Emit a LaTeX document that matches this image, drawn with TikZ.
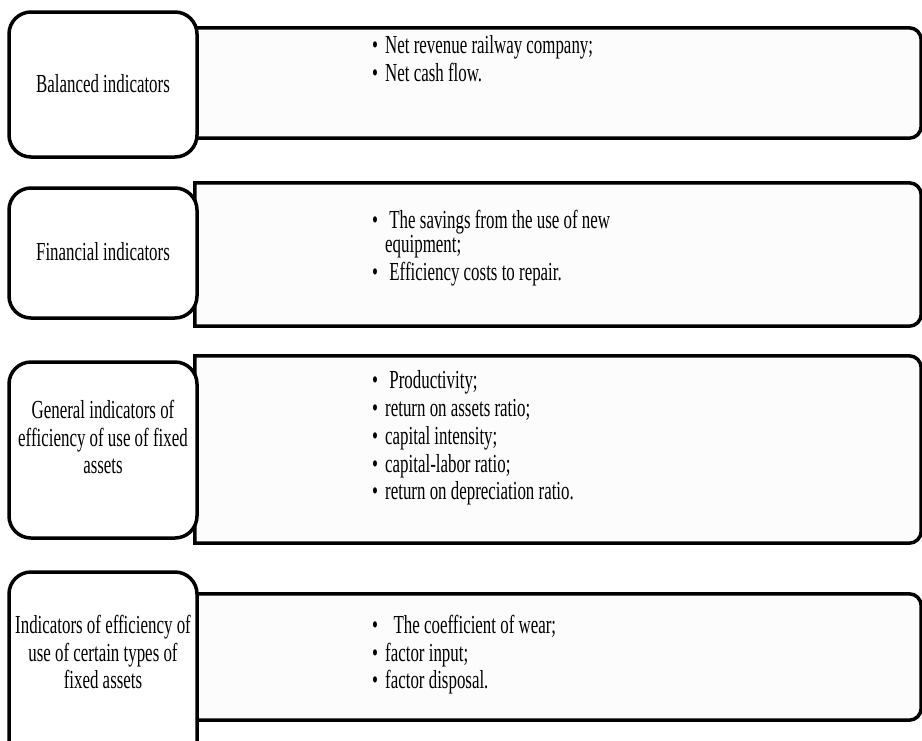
\documentclass[tikz,border=0pt]{standalone}
\usepackage{fontspec}
\setmainfont{Liberation Serif}[FakeStretch=0.65]
\usetikzlibrary{positioning}
\tikzset{
	leftbox/.style={draw, line width=3.5pt, rounded corners=22pt, fill=white,
			minimum width=188pt, inner sep=0pt},
	rightbox/.style={draw, line width=3.5pt, fill=black!1},
	frame/.style={minimum width=726pt, inner sep=0pt},
	boxtext/.style={align=center, inner sep=0pt, font=\fontsize{26}{27.5}\selectfont},
	itemtext/.style={anchor=base west, inner sep=0pt, font=\fontsize{26}{28}\selectfont}
}
\newcommand{\itm}[1]{\makebox[13pt][l]{\textbullet}#1}
% box with the two right corners rounded
\newcommand{\sideround}[1]{%
	\draw[rightbox] (#1.south west) -- (#1.north west)
	-- ([xshift=-12pt]#1.north east) arc[start angle=90, end angle=0, radius=12pt]
	-- ([yshift=12pt]#1.south east) arc[start angle=0, end angle=-90, radius=12pt]
	-- cycle;}

\begin{document}
\begin{tikzpicture}[x=1pt, y=-1pt]
	\useasboundingbox (0,0) rectangle (922,740);
	% right boxes
	\node[frame, minimum height=110pt] (r1) at (558,83) {};
	\node[frame, minimum height=143pt] (r2) at (558,254.5) {};
	\node[frame, minimum height=187pt] (r3) at (558,449.5) {};
	\node[frame, minimum height=126pt] (r4) at (558,657) {};
	\sideround{r1}
	\sideround{r2}
	\sideround{r3}
	\sideround{r4}
	% left boxes
	\node[leftbox, minimum height=145pt] (l1) at (103,84.5) {};
	\node[leftbox, minimum height=130pt] (l2) at (103,253) {};
	\node[leftbox, minimum height=176pt] (l3) at (103,450) {};
	\node[leftbox, minimum height=218pt] (l4) at (103,681) {};
	\node[boxtext] (t1) at (103,84) {Balanced indicators};
	\node[boxtext] (t2) at (103,252) {Financial indicators};
	\node[boxtext] (t3) at (103,437) {General indicators of\\efficiency of use of fixed\\assets};
	\node[boxtext] (t4) at (103,652) {Indicators of efficiency of\\use of certain types of\\fixed assets};
	% items
	\node[itemtext] (a11) at (372,53) {\itm{Net revenue railway company;}};
	\node[itemtext] (a12) at (372,81) {\itm{Net cash flow.}};
	\node[itemtext] (a21) at (372,228) {\itm{\ The savings from the use of new}};
	\node[itemtext] (a22) at (385,252) {equipment;};
	\node[itemtext] (a23) at (372,280) {\itm{\ Efficiency costs to repair.}};
	\node[itemtext] (a31) at (372,388) {\itm{\ Productivity;}};
	\node[itemtext] (a32) at (372,416) {\itm{return on assets ratio;}};
	\node[itemtext] (a33) at (372,444) {\itm{capital intensity;}};
	\node[itemtext] (a34) at (372,472) {\itm{capital-labor ratio;}};
	\node[itemtext] (a35) at (372,499) {\itm{return on depreciation ratio.}};
	\node[itemtext] (a41) at (372,633) {\itm{\ \ The coefficient of wear;}};
	\node[itemtext] (a42) at (372,661) {\itm{factor input;}};
	\node[itemtext] (a43) at (372,688) {\itm{factor disposal.}};
\end{tikzpicture}
\end{document}
